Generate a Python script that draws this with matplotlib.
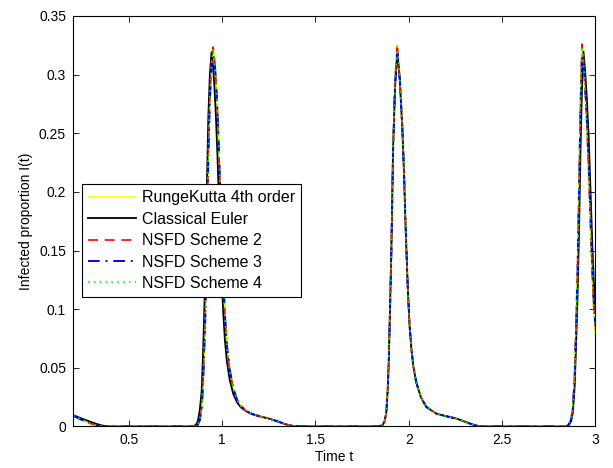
import matplotlib
matplotlib.use("Agg")
import matplotlib.pyplot as plt
from matplotlib.ticker import FormatStrFormatter

plt.rcParams['font.family'] = ['Liberation Sans', 'DejaVu Sans']

# time grid shared by all schemes (denser around the three peaks)
t = [0.20, 0.24, 0.28, 0.32, 0.36, 0.40, 0.50, 0.60, 0.70, 0.80,
     0.84, 0.86, 0.87, 0.88, 0.89, 0.897, 0.903, 0.91, 0.918, 0.926, 0.934, 0.943,
     0.951, 0.958, 0.966, 0.975, 0.985, 0.995, 1.005, 1.015, 1.025, 1.04, 1.06, 1.08, 1.10,
     1.13, 1.16, 1.20, 1.25, 1.30, 1.34, 1.38, 1.42, 1.50, 1.60, 1.70, 1.80,
     1.84, 1.86, 1.87, 1.88, 1.887, 1.893, 1.899, 1.907, 1.916, 1.927, 1.939,
     1.952, 1.966, 1.975, 1.984, 1.995, 2.005, 2.015, 2.025, 2.04, 2.065, 2.095,
     2.15, 2.20, 2.255, 2.30, 2.33, 2.36, 2.40, 2.50, 2.60, 2.70, 2.80,
     2.84, 2.855, 2.87, 2.88, 2.89, 2.897, 2.905, 2.913, 2.921, 2.929, 2.937,
     2.945, 2.955, 2.965, 2.975, 2.985, 2.993, 3.0]

rk4 = [0.0094, 0.0062, 0.0034, 0.0012, 0.0002, 0.0, 0.0, 0.0, 0.0, 0.0,
       0.0, 0.0005, 0.0018, 0.0055, 0.016, 0.035, 0.062, 0.098, 0.160, 0.235, 0.282, 0.310,
       0.3230, 0.315, 0.297, 0.268, 0.222, 0.176, 0.130, 0.093, 0.069, 0.048, 0.032, 0.0225, 0.0175,
       0.0132, 0.0107, 0.0087, 0.0068, 0.0042, 0.0019, 0.0005, 0.0, 0.0, 0.0, 0.0, 0.0,
       0.0, 0.0012, 0.004, 0.012, 0.030, 0.056, 0.096, 0.152, 0.238, 0.297, 0.325,
       0.298, 0.254, 0.216, 0.168, 0.119, 0.086, 0.066, 0.051, 0.038, 0.025, 0.0165,
       0.0108, 0.0088, 0.0068, 0.0042, 0.0024, 0.0008, 0.0, 0.0, 0.0, 0.0, 0.0,
       0.0, 0.001, 0.006, 0.016, 0.045, 0.085, 0.135, 0.205, 0.275, 0.325, 0.311,
       0.289, 0.256, 0.215, 0.168, 0.123, 0.095, 0.079]

euler = [0.0098, 0.0072, 0.0048, 0.0025, 0.0007, 0.0, 0.0, 0.0, 0.0, 0.0,
         0.0, 0.0015, 0.0048, 0.014, 0.030, 0.060, 0.092, 0.135, 0.205, 0.265, 0.300, 0.319,
         0.307, 0.291, 0.266, 0.230, 0.181, 0.137, 0.099, 0.073, 0.056, 0.040, 0.0275, 0.0205, 0.0163,
         0.0128, 0.0105, 0.0086, 0.0068, 0.0042, 0.0019, 0.0005, 0.0, 0.0, 0.0, 0.0, 0.0,
         0.0, 0.0012, 0.004, 0.012, 0.030, 0.055, 0.095, 0.150, 0.235, 0.290, 0.319,
         0.296, 0.253, 0.215, 0.167, 0.118, 0.085, 0.065, 0.051, 0.038, 0.025, 0.0165,
         0.0108, 0.0088, 0.0068, 0.0042, 0.0024, 0.0008, 0.0, 0.0, 0.0, 0.0, 0.0,
         0.0, 0.0005, 0.004, 0.012, 0.035, 0.068, 0.110, 0.165, 0.235, 0.288, 0.3195,
         0.305, 0.280, 0.246, 0.200, 0.152, 0.122, 0.100]

nsfd2 = [0.0094, 0.0062, 0.0034, 0.0012, 0.0002, 0.0, 0.0, 0.0, 0.0, 0.0,
         0.0, 0.0005, 0.0018, 0.0055, 0.016, 0.035, 0.062, 0.098, 0.160, 0.235, 0.282, 0.310,
         0.3235, 0.315, 0.297, 0.268, 0.222, 0.176, 0.130, 0.093, 0.069, 0.048, 0.032, 0.0225, 0.0175,
         0.0132, 0.0107, 0.0087, 0.0068, 0.0042, 0.0019, 0.0005, 0.0, 0.0, 0.0, 0.0, 0.0,
         0.0, 0.0012, 0.004, 0.012, 0.030, 0.055, 0.095, 0.150, 0.235, 0.296, 0.326,
         0.298, 0.253, 0.215, 0.167, 0.118, 0.085, 0.065, 0.051, 0.038, 0.025, 0.0165,
         0.0108, 0.0088, 0.0068, 0.0042, 0.0024, 0.0008, 0.0, 0.0, 0.0, 0.0, 0.0,
         0.0, 0.001, 0.006, 0.016, 0.045, 0.085, 0.135, 0.205, 0.275, 0.326, 0.312,
         0.290, 0.258, 0.218, 0.172, 0.128, 0.100, 0.085]

nsfd3 = [0.0094, 0.0062, 0.0034, 0.0012, 0.0002, 0.0, 0.0, 0.0, 0.0, 0.0,
         0.0, 0.0004, 0.0016, 0.005, 0.015, 0.033, 0.060, 0.095, 0.155, 0.230, 0.278, 0.306,
         0.316, 0.313, 0.297, 0.269, 0.224, 0.178, 0.132, 0.095, 0.070, 0.049, 0.0325, 0.0228, 0.0177,
         0.0133, 0.0108, 0.0087, 0.0068, 0.0042, 0.0019, 0.0005, 0.0, 0.0, 0.0, 0.0, 0.0,
         0.0, 0.0011, 0.0038, 0.0115, 0.029, 0.054, 0.093, 0.148, 0.233, 0.292, 0.318,
         0.297, 0.255, 0.217, 0.169, 0.120, 0.086, 0.066, 0.052, 0.038, 0.025, 0.0166,
         0.0108, 0.0088, 0.0068, 0.0042, 0.0024, 0.0008, 0.0, 0.0, 0.0, 0.0, 0.0,
         0.0, 0.001, 0.0055, 0.015, 0.043, 0.082, 0.131, 0.200, 0.268, 0.315, 0.314,
         0.294, 0.263, 0.224, 0.178, 0.132, 0.104, 0.088]

nsfd4 = [0.0094, 0.0062, 0.0034, 0.0012, 0.0002, 0.0, 0.0, 0.0, 0.0, 0.0,
         0.0, 0.0005, 0.0018, 0.0055, 0.016, 0.035, 0.062, 0.098, 0.160, 0.235, 0.282, 0.309,
         0.322, 0.314, 0.297, 0.268, 0.222, 0.176, 0.130, 0.093, 0.069, 0.048, 0.032, 0.0225, 0.0175,
         0.0132, 0.0107, 0.0087, 0.0068, 0.0042, 0.0019, 0.0005, 0.0, 0.0, 0.0, 0.0, 0.0,
         0.0, 0.0012, 0.004, 0.012, 0.030, 0.055, 0.095, 0.150, 0.236, 0.296, 0.324,
         0.298, 0.253, 0.215, 0.167, 0.118, 0.085, 0.065, 0.051, 0.038, 0.025, 0.0165,
         0.0108, 0.0088, 0.0068, 0.0042, 0.0024, 0.0008, 0.0, 0.0, 0.0, 0.0, 0.0,
         0.0, 0.001, 0.006, 0.016, 0.045, 0.085, 0.135, 0.205, 0.275, 0.324, 0.311,
         0.289, 0.257, 0.217, 0.170, 0.126, 0.098, 0.083]

labels = ["RungeKutta 4th order", "Classical Euler", "NSFD Scheme 2",
          "NSFD Scheme 3", "NSFD Scheme 4"]

fig = plt.figure(figsize=(6.13, 4.68), dpi=100)
ax = fig.add_axes([0.119, 0.0887, 0.852, 0.8773])

ax.plot(t, rk4, color=(1, 1, 0), lw=1.2, label=labels[0])
ax.plot(t, euler, color='k', lw=1.3, label=labels[1])
ax.plot(t, nsfd2, color='r', lw=1.2, ls=(0, (6, 4)), label=labels[2])
ax.plot(t, nsfd3, color='b', lw=1.4, ls=(0, (6, 3, 1, 3)), label=labels[3])
ax.plot(t, nsfd4, color=(0, 1, 0), lw=1.2, ls=(0, (1, 2.5)), label=labels[4])

ax.set_xlim(0.2, 3)
ax.set_ylim(0, 0.35)
ax.set_xticks([0.5, 1, 1.5, 2, 2.5, 3])
ax.set_yticks([0, 0.05, 0.1, 0.15, 0.2, 0.25, 0.3, 0.35])
ax.xaxis.set_major_formatter(FormatStrFormatter('%g'))
ax.yaxis.set_major_formatter(FormatStrFormatter('%g'))
ax.tick_params(direction='in', length=4, width=0.6, top=True, right=True, labelsize=10, pad=5)
for s in ax.spines.values():
    s.set_linewidth(0.8)

ax.set_xlabel("Time t", fontsize=10, labelpad=2)
ax.set_ylabel("Infected proportion I(t)", fontsize=10, labelpad=4)

leg = ax.legend(loc='upper left', bbox_to_anchor=(0.0172, 0.5907), borderaxespad=0,
                fontsize=11.5, handlelength=3.0, handletextpad=0.35, labelspacing=0.4,
                fancybox=False, framealpha=1, edgecolor='k', borderpad=0.4)
leg.get_frame().set_linewidth(0.8)

fig.savefig("out.png", dpi=100)
